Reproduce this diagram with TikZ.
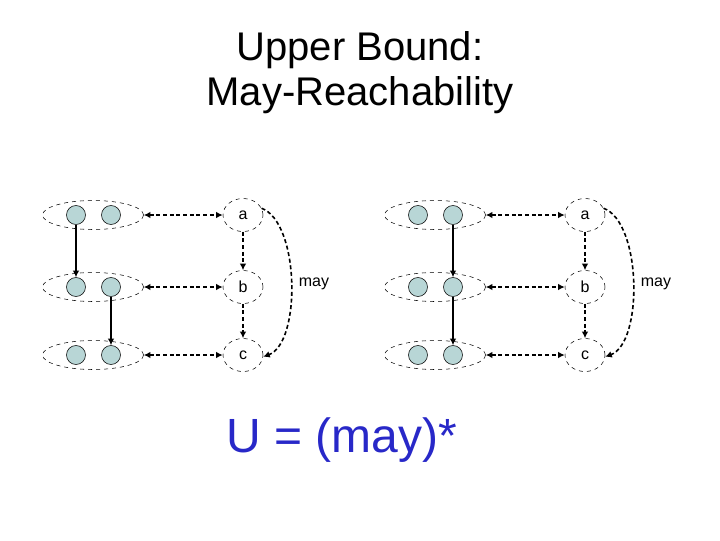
\documentclass[tikz,border=0pt]{standalone}
\usepackage{fontspec}
\setmainfont{Liberation Sans}
\usetikzlibrary{arrows.meta,shapes.geometric}
\definecolor{cfill}{RGB}{184,214,214}
\definecolor{hand}{RGB}{40,40,200}
\begin{document}
\begin{tikzpicture}[x=0.75pt,y=-0.75pt,
  grp/.style={draw,dashed,ellipse,minimum width=101*0.75pt,minimum height=29*0.75pt,inner sep=0pt},
  dot/.style={draw,circle,fill=cfill,minimum size=19*0.75pt,inner sep=0pt},
  abs/.style={draw,dashed,ellipse,minimum width=40*0.75pt,minimum height=33*0.75pt,inner sep=0pt,font=\fontsize{12}{14}\selectfont},
  dsh/.style={line width=1.2pt,dash pattern=on 3pt off 2pt},
  darr/.style={dsh,-{Latex[length=5pt,width=5pt]}},
  barr/.style={dsh,{Latex[length=5pt,width=5pt]}-{Latex[length=5pt,width=5pt]}},
  sarr/.style={line width=1.2pt,-{Latex[length=5pt,width=5pt]}},
  lbl/.style={font=\fontsize{12}{14}\selectfont}]
\useasboundingbox (0,0) rectangle (720,540);
\node[font=\fontsize{30}{34}\selectfont] (t1) at (360,50) {Upper Bound:};
\node[font=\fontsize{30}{34}\selectfont] (t2) at (360,95) {May-Reachability};
\foreach \o/\p in {0/L,342/R}{
  \foreach \y/\r/\n in {215/1/a,287/2/b,355/3/c}{
    \node[grp] (g\p\r) at (93+\o,\y) {};
    \node[dot] (d\p\r1) at (76+\o,\y) {};
    \node[dot] (d\p\r2) at (111+\o,\y) {};
    \node[abs] (s\p\r) at (243+\o,\y) {\n};
    \draw[barr] (g\p\r.east) -- (s\p\r.west);
  }
  \draw[darr] (s\p1) -- (s\p2);
  \draw[darr] (s\p2) -- (s\p3);
  \draw[darr] (s\p1.20) to[out=-20,in=20,looseness=0.7] (s\p3.-5);
  \node[lbl] (may\p) at (314+\o,284) {may};
}
\draw[sarr] (dL11) -- (dL21);
\draw[sarr] (dL22) -- (dL32);
\draw[sarr] (dR12) -- (dR22);
\draw[sarr] (dR22) -- (dR32);
\node[font=\fontsize{36}{40}\selectfont,text=hand] (u) at (342,440) {U = (may)*};
\end{tikzpicture}
\end{document}
